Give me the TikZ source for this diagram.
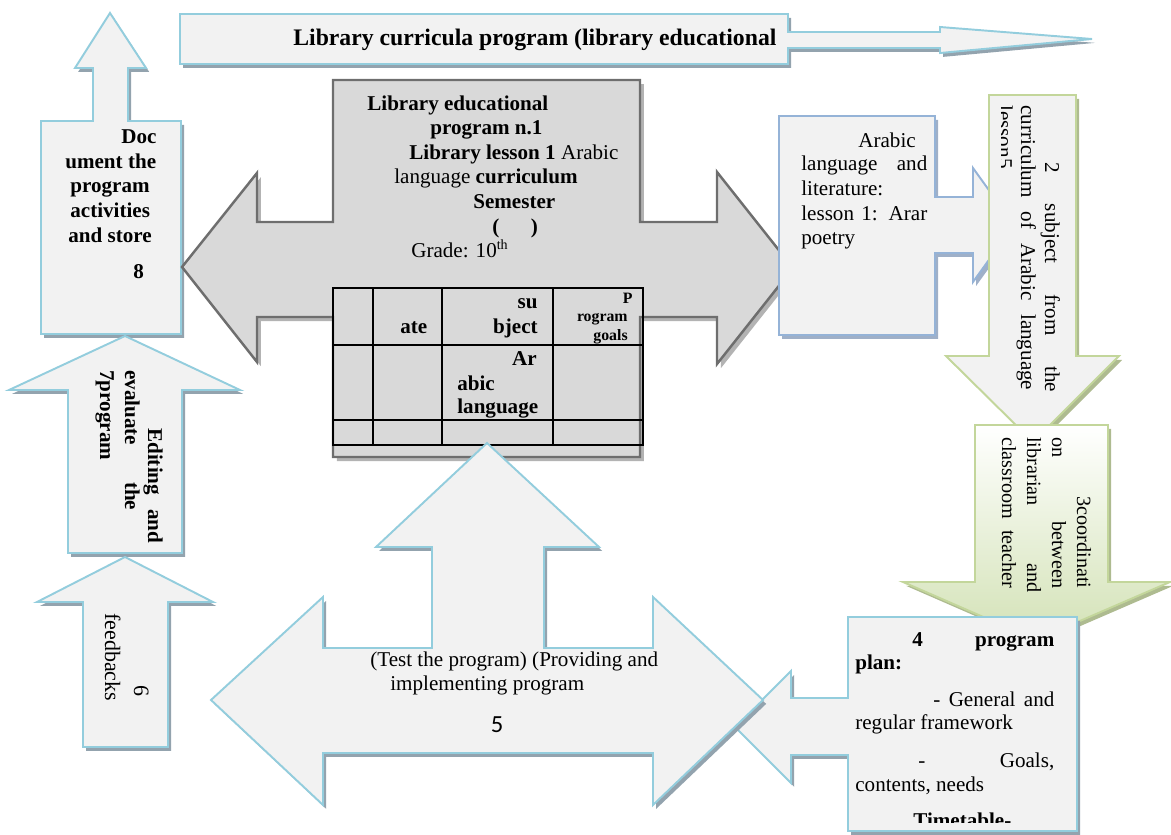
\documentclass[tikz,border=0pt]{standalone}
\usepackage{fontspec}
\setmainfont{Liberation Serif}
\newfontfamily\carl{Carlito}
\usetikzlibrary{shadows}
\newlength\pxu \setlength\pxu{0.569055pt}
\definecolor{bluebd}{HTML}{93CDDD}
\definecolor{boxfill}{HTML}{F2F2F2}
\definecolor{shblue}{HTML}{93A3AE}
\definecolor{graybd}{HTML}{6E6E6E}
\definecolor{grayfill}{HTML}{D9D9D9}
\definecolor{grayshadow}{HTML}{B3B3B3}
\definecolor{arabbd}{HTML}{95B3D7}
\definecolor{arabsh}{HTML}{9FB0C8}
\definecolor{greenbd}{HTML}{C3D69B}
\definecolor{greensh}{HTML}{AEBB90}
\definecolor{greenfill}{HTML}{D3E2B6}
\tikzset{
  bluearrow/.style={draw=bluebd, line width=1.1pt, fill=boxfill, line join=miter,
    drop shadow={shadow xshift=1.8pt, shadow yshift=-2.2pt, fill=shblue, opacity=1}},
  grayarrow/.style={draw=graybd, line width=1.4pt, fill=grayfill, line join=miter,
    drop shadow={shadow xshift=2.2pt, shadow yshift=-2.4pt, fill=grayshadow, opacity=1}},
  arabarrow/.style={draw=arabbd, line width=1.1pt, fill=boxfill, line join=miter,
    drop shadow={shadow xshift=1.8pt, shadow yshift=-2.2pt, fill=arabsh, opacity=1}},
  greenarrow/.style={draw=greenbd, line width=1.1pt, fill=boxfill, line join=miter,
    drop shadow={shadow xshift=1.8pt, shadow yshift=-2.2pt, fill=greensh, opacity=1}},
  tx/.style={inner sep=0pt, anchor=base west, font=\fontsize{12}{14}\selectfont},
  txb/.style={tx, font=\fontsize{12}{14}\selectfont\bfseries},
  rot/.style={rotate=-90},
  tbl/.style={draw=black, line width=0.9pt}
}
\begin{document}
\begin{tikzpicture}[x=0.02cm,y=-0.02cm]
\useasboundingbox (0,0) rectangle (1171,835);

% top banner
\path[bluearrow] (180,14) -- (788,14) -- (788,32) -- (940,32) -- (940,27) -- (1092,39)
  -- (940,53) -- (940,48) -- (788,48) -- (788,64) -- (180,64) -- cycle;
\node[txb, font=\fontsize{13.5}{15}\selectfont\bfseries] (banner) at (293,46)
  {Library curricula program (library educational};

% arrow 8
\path[bluearrow] (41,334) -- (41,121) -- (93,121) -- (93,68) -- (75,68) -- (110,13)
  -- (146,68) -- (128,68) -- (128,121) -- (181,121) -- (181,334) -- cycle;
\node[txb] (d1) at (121,143) {Doc};
\node[txb] (d2) at (65,168) {ument the};
\node[txb] (d3) at (70,192) {program};
\node[txb] (d4) at (70,217) {activities};
\node[txb] (d5) at (68,242) {and store};
\node[txb] (d6) at (133,278) {8};

% arrow 7
\path[bluearrow] (68,553) -- (68,390) -- (9,390) -- (125,336) -- (240,390) -- (182,390)
  -- (182,553) -- cycle;
\node[txb, rot] (e1) at (148,428) {\makebox[115\pxu][s]{Editing and}};
\node[txb, rot] (e2) at (125,370) {\makebox[140\pxu][s]{evaluate the}};
\node[txb, rot] (e3) at (100,370) {7program};

% arrow 6
\path[bluearrow] (83,747) -- (83,602) -- (37,602) -- (125,557) -- (213,602) -- (168,602)
  -- (168,747) -- cycle;
\node[tx, rot, font=\fontsize{12.5}{14}\selectfont] (f1) at (134,685) {6};
\node[tx, rot, font=\fontsize{12.5}{14}\selectfont] (f2) at (105,613) {feedbacks};

% central gray cross arrow
\path[grayarrow] (333,80) -- (640,80) -- (640,222) -- (717,222) -- (717,172) -- (793,268)
  -- (717,364) -- (717,317) -- (640,317) -- (640,457) -- (333,457) -- (333,317)
  -- (257,317) -- (257,362) -- (182,267) -- (257,173) -- (257,222) -- (333,222) -- cycle;
\node[txb] (g1) at (367,110) {Library educational};
\node[txb] (g2) at (430,134) {program n.1};
\node[tx] (g3) at (409,159) {\bfseries Library lesson 1\mdseries\ Arabic};
\node[tx] (g4) at (394,183) {language \bfseries curriculum};
\node[txb] (g5) at (473,208) {Semester};
\node[txb] (g6) at (492,233) {(\hspace{18pt})};
\node[tx] (g7) at (411,257) {Grade: 10\textsuperscript{th}};
% table
\draw[tbl] (333,288) rectangle (643,445);
\draw[tbl] (333,345) -- (643,345) (333,420) -- (643,420);
\draw[tbl] (373,288) -- (373,445) (442,288) -- (442,445) (553,288) -- (553,445);
\node[txb] (c1) at (400,333) {ate};
\node[txb, anchor=base east] (c2) at (538,308) {su};
\node[txb, anchor=base east] (c3) at (538,333) {bject};
\node[txb, anchor=base east, font=\fontsize{9}{10}\selectfont\bfseries] (c4) at (633,303) {P};
\node[txb, anchor=base east, font=\fontsize{9}{10}\selectfont\bfseries] (c5) at (628,321) {rogram};
\node[txb, anchor=base east, font=\fontsize{9}{10}\selectfont\bfseries] (c6) at (628,340) {goals};
\node[txb, anchor=base east] (c7) at (537,365) {Ar};
\node[txb] (c8) at (457,390) {abic};
\node[txb] (c9) at (457,413) {language};

% Arabic language box with arrow
\path[arabarrow] (779,116) -- (935,116) -- (935,197) -- (973,197) -- (973,168) -- (1014,225)
  -- (973,282) -- (973,253) -- (935,253) -- (935,335) -- (779,335) -- cycle;
\node[tx] (a1) at (858,147) {Arabic};
\node[tx] (a2) at (801,170) {\makebox[126\pxu][s]{language and}};
\node[tx] (a3) at (801,195) {literature:};
\node[tx] (a4) at (801,220) {\makebox[126\pxu][s]{lesson 1: Arar}};
\node[tx] (a5) at (801,244) {poetry};

% green arrow 2
\path[greenarrow] (989,95) -- (1076,95) -- (1076,356) -- (1119,356) -- (1033,442)
  -- (946,356) -- (989,356) -- cycle;
\node[tx, rot] (s1) at (1045,162) {\makebox[230\pxu][s]{2 subject from the}};
\node[tx, rot] (s2) at (1021,105) {\makebox[285\pxu][s]{curriculum of Arabic language}};
\begin{scope}
  \clip (1001,97) rectangle (1075,354);
  \node[tx, rot] (s3) at (998,105) {lesson5};
\end{scope}

% green arrow 3
\path[draw=greenbd, line width=1.1pt, top color=white, bottom color=greenfill, line join=miter,
    drop shadow={shadow xshift=1.8pt, shadow yshift=-2.2pt, fill=greensh, opacity=1}]
  (975,425) -- (1108,425) -- (1108,582) -- (1170,582) -- (1036,640) -- (903,582)
  -- (975,582) -- cycle;
\node[tx, rot, font=\fontsize{11.5}{13}\selectfont] (k1) at (1077,437) {\makebox[151\pxu][r]{3coordinati}};
\node[tx, rot, font=\fontsize{11.5}{13}\selectfont] (k2) at (1052,437) {\makebox[151\pxu][s]{on between}};
\node[tx, rot, font=\fontsize{11.5}{13}\selectfont] (k3) at (1027,437) {\makebox[155\pxu][s]{librarian and}};
\node[tx, rot, font=\fontsize{11.5}{13}\selectfont] (k4) at (1002,437) {\makebox[151\pxu][s]{classroom teacher}};

% box 4 with left arrow
\path[bluearrow] (848,617) -- (1077,617) -- (1077,831) -- (848,831) -- (848,755) -- (791,755)
  -- (791,783) -- (735,727) -- (791,671) -- (791,698) -- (848,698) -- cycle;
\node[txb] (p1) at (912,646) {\makebox[142\pxu][s]{4 program}};
\node[txb] (p2) at (855,669) {plan:};
\node[tx] (p3) at (933,706) {\makebox[121\pxu][s]{- General and}};
\node[tx] (p4) at (855,729) {regular framework};
\node[tx] (p5) at (918,767) {\makebox[136\pxu][s]{- Goals,}};
\node[tx] (p6) at (855,791) {contents, needs};
\begin{scope}
  \clip (850,619) rectangle (1075,822);
  \node[txb] (p7) at (913,827) {Timetable-};
\end{scope}

% triple arrow 5
\path[bluearrow] (211,700) -- (323,597) -- (323,648) -- (432,648) -- (432,547) -- (376,547)
  -- (487,443) -- (599,547) -- (544,547) -- (544,648) -- (653,648) -- (653,597) -- (763,700)
  -- (653,805) -- (653,753) -- (323,753) -- (323,805) -- cycle;
\node[tx] (t1) at (370,666) {(Test the program) (Providing and};
\node[tx] (t2) at (390,690) {implementing program};
\node[inner sep=0pt, font=\carl\fontsize{14}{16}\selectfont] (t3) at (497,725) {5};
\end{tikzpicture}
\end{document}
